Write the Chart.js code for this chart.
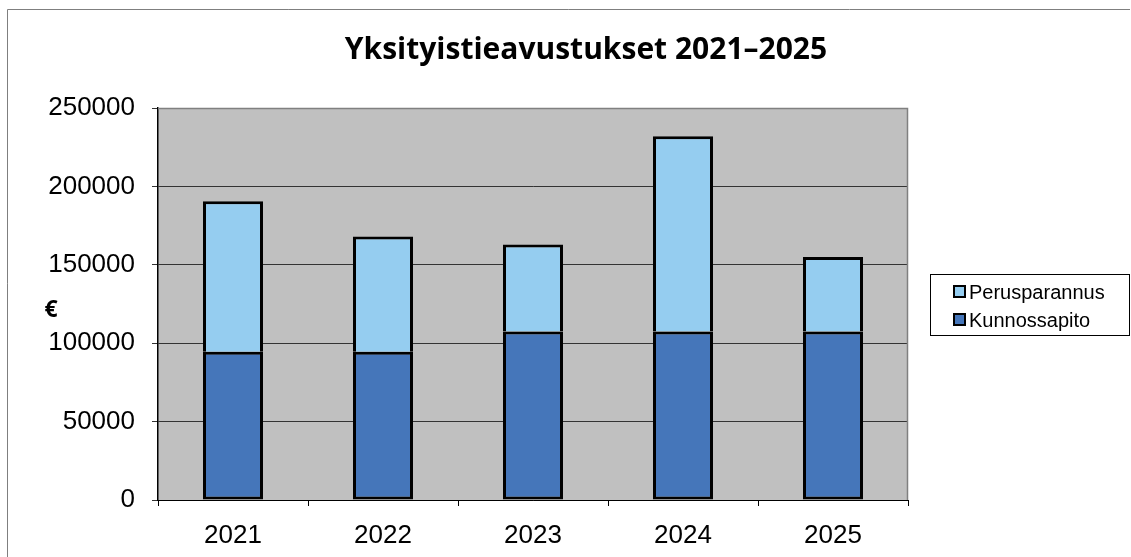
<!DOCTYPE html>
<html>
<head>
<meta charset="utf-8">
<script src="https://cdn.jsdelivr.net/npm/chart.js@4.4.1/dist/chart.umd.min.js"></script>
<style>
  html, body { margin: 0; padding: 0; background: #fff; }
  #wrap { width: 1131px; height: 557px; }
</style>
</head>
<body>
<div id="wrap"><canvas id="avustukset" width="1131" height="557"></canvas></div>
<script>
"use strict";

const years = ['2021', '2022', '2023', '2024', '2025'];
const kunnossapito = [94500, 94500, 107500, 107500, 107500];
const perusparannus = [96000, 73500, 55500, 124500, 47500];
const yTicks = [0, 50000, 100000, 150000, 200000, 250000];

const titleText = 'Yksityistieavustukset 2021\u20132025';
const axisFont = '"Liberation Sans", Arial, sans-serif';

// background, frame, title, euro label and the boxed legend
const decor = {
  id: 'decor',
  beforeDraw(chart) {
    const ctx = chart.ctx;
    const a = chart.chartArea;
    ctx.save();
    ctx.fillStyle = '#fff';
    ctx.fillRect(0, 0, chart.width, chart.height);
    // outer frame (top + left only visible)
    ctx.strokeStyle = '#7f7f7f';
    ctx.lineWidth = 1;
    ctx.beginPath();
    ctx.moveTo(7.5, chart.height);
    ctx.lineTo(7.5, 9.5);
    ctx.lineTo(1130, 9.5);
    ctx.stroke();
    // plot area
    ctx.fillStyle = '#c0c0c0';
    ctx.fillRect(a.left, a.top, a.right - a.left, a.bottom - a.top);
    ctx.restore();
  },
  afterDraw(chart) {
    const ctx = chart.ctx;
    const a = chart.chartArea;
    ctx.save();
    ctx.strokeStyle = '#808080';
    ctx.lineWidth = 1.5;
    ctx.beginPath();
    ctx.moveTo(a.left, a.top + 0.5);
    ctx.lineTo(a.right - 0.5, a.top + 0.5);
    ctx.lineTo(a.right - 0.5, a.bottom);
    ctx.stroke();

    // title
    ctx.fillStyle = '#000';
    ctx.font = 'bold 30px "Open Sans", sans-serif';
    ctx.textAlign = 'center';
    ctx.textBaseline = 'middle';
    ctx.fillText(titleText, 586, 50);

    // y axis unit
    ctx.font = 'bold 23px "Open Sans", sans-serif';
    ctx.fillText('\u20ac', 51, 310);

    // legend
    ctx.strokeStyle = '#000';
    ctx.lineWidth = 1;
    ctx.strokeRect(930.5, 274.5, 199, 61);
    const ds = chart.data.datasets.slice().reverse();
    ctx.font = '20px ' + axisFont;
    ctx.textAlign = 'left';
    ds.forEach((d, i) => {
      const y = 292 + i * 28;
      ctx.fillStyle = d.backgroundColor;
      ctx.fillRect(954, y - 6, 11, 11);
      ctx.lineWidth = 2;
      ctx.strokeRect(954, y - 6, 11, 11);
      ctx.fillStyle = '#000';
      ctx.fillText(d.label, 969, y + 1);
    });
    ctx.restore();
  }
};

const chart = new Chart(document.getElementById('avustukset'), {
  type: 'bar',
  data: {
    labels: years,
    datasets: [
      {
        label: 'Kunnossapito',
        data: kunnossapito,
        backgroundColor: '#4576ba',
        borderColor: '#000',
        borderWidth: 3,
        borderSkipped: false,
        barPercentage: 0.4,
        categoryPercentage: 1,
      },
      {
        label: 'Perusparannus',
        data: perusparannus,
        backgroundColor: '#95cdf0',
        borderColor: '#000',
        borderWidth: 3,
        borderSkipped: 'start',
        barPercentage: 0.4,
        categoryPercentage: 1,
      },
    ],
  },
  options: {
    responsive: false,
    animation: false,
    layout: { padding: { left: 8, right: 223, top: 108, bottom: 0 } },
    plugins: {
      legend: { display: false },
      title: { display: false },
      tooltip: { enabled: false },
    },
    scales: {
      x: {
        stacked: true,
        offset: true,
        afterFit(s) { s.height = 57; },
        border: { color: '#000', width: 1 },
        grid: {
          offset: true,
          drawOnChartArea: false,
          drawTicks: true,
          tickLength: 6,
          color: '#000',
        },
        ticks: {
          color: '#000',
          padding: 14,
          font: { family: axisFont, size: 26 },
        },
      },
      y: {
        stacked: true,
        min: yTicks[0],
        max: yTicks[yTicks.length - 1],
        afterFit(s) { s.width = 150; },
        afterBuildTicks(s) { s.ticks = yTicks.map(v => ({ value: v })); },
        border: { color: '#000', width: 1.5 },
        grid: {
          color: '#333',
          lineWidth: 1,
          tickLength: 6,
        },
        ticks: {
          color: '#000',
          padding: 17,
          font: { family: axisFont, size: 26 },
          callback: v => String(v),
        },
      },
    },
  },
  plugins: [decor],
});
</script>
</body>
</html>
